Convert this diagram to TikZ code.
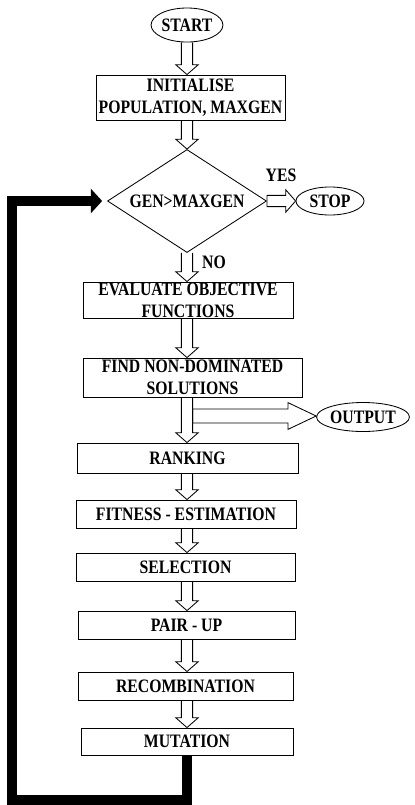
\documentclass[tikz,border=0pt]{standalone}
\usepackage{fontspec}
\setmainfont{Liberation Serif}[FakeStretch=0.83]
\usetikzlibrary{arrows.meta, calc, shapes.geometric}

\begin{document}
\begin{tikzpicture}[
        x=0.025cm, y=-0.025cm,
        every node/.style={font=\bfseries\fontsize{13.5}{15.5}\selectfont},
        box/.style={draw, line width=0.6pt, inner sep=0pt, align=center},
        term/.style={draw, ellipse, line width=0.6pt, inner sep=0pt},
        godown/.style={draw, line width=0.6pt, to path={
            let \p1=(\tikztostart), \p2=(\tikztotarget) in
            (\x1-4pt,\y1) -- (\x1-4pt,\y2+7pt) -- (\x1-8pt,\y2+7pt) -- (\x1,\y2)
            -- (\x1+8pt,\y2+7pt) -- (\x1+4pt,\y2+7pt) -- (\x1+4pt,\y1)}},
        goright/.style n args={3}{draw, line width=0.6pt, to path={
            let \p1=(\tikztostart), \p2=(\tikztotarget) in
            (\x1,\y1+#1) -- (\x2-#3,\y1+#1) -- (\x2-#3,\y1+#2) -- (\x2,\y1)
            -- (\x2-#3,\y1-#2) -- (\x2-#3,\y1-#1) -- (\x1,\y1-#1) -- cycle}},
        back/.style={line width=7pt, -{Triangle[length=8pt, width=17pt]}, shorten >=3.5pt}
    ]
        \useasboundingbox (0,0) rectangle (415,805);

        \node[term, minimum width=1.75cm, minimum height=0.85cm] (start) at (187,25) {START};
        \node[box, minimum width=4.725cm, minimum height=1.125cm] (init) at (190.5,97.5)
            {INITIALISE\\POPULATION, MAXGEN};
        \node[draw, diamond, aspect=1.54, line width=0.6pt, inner sep=0pt,
              minimum width=3.975cm, minimum height=2.575cm] (test) at (187,201) {GEN>MAXGEN};
        \node[term, minimum width=1.7cm, minimum height=0.7cm] (stop) at (330,201) {STOP};
        \node (yes) at (281,175) {YES};
        \node (no) at (214,262) {NO};
        \node[box, minimum width=5.25cm, minimum height=0.9cm] (eval) at (188,300)
            {EVALUATE OBJECTIVE\\FUNCTIONS};
        \node[box, minimum width=5.475cm, minimum height=0.975cm] (find) at (192.5,377.5)
            {FIND NON-DOMINATED\\SOLUTIONS};
        \node[term, minimum width=2.225cm, minimum height=0.725cm] (output) at (363,417) {OUTPUT};
        \node[box, minimum width=5.525cm, minimum height=0.75cm] (rank) at (187.5,458) {RANKING};
        \node[box, minimum width=5.5cm, minimum height=0.7cm] (fit) at (186,514) {FITNESS - ESTIMATION};
        \node[box, minimum width=5.475cm, minimum height=0.7cm] (sel) at (185.5,567) {SELECTION};
        \node[box, minimum width=5.425cm, minimum height=0.7cm] (pair) at (186.5,625) {PAIR - UP};
        \node[box, minimum width=5.375cm, minimum height=0.7cm] (recomb) at (185.5,686) {RECOMBINATION};
        \node[box, minimum width=5.3cm, minimum height=0.675cm] (mut) at (187,741.5) {MUTATION};

        \coordinate (branch) at (192.6,416);
        \coordinate (low) at (12,800);

        \foreach \a/\b in {start/init, init/test, test/eval, eval/find, find/rank,
                           rank/fit, fit/sel, sel/pair, pair/recomb, recomb/mut}
            \draw[godown] (\a.south -| test) to (\b.north);
        \draw[goright={4pt}{8pt}{7pt}] (test.east) to (stop.west);
        \draw[goright={5pt}{9.5pt}{20pt}] (branch) to (output.west);

        \draw[back] (mut.south) |- (low) |- (test.west);
    \end{tikzpicture}
\end{document}
